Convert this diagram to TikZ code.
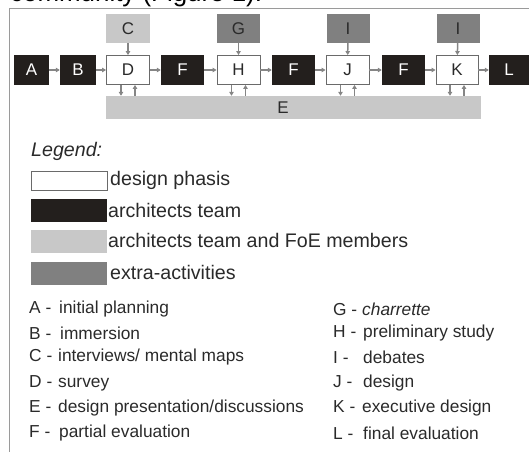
\documentclass[tikz,border=0pt]{standalone}
\usepackage{fontspec}
\setmainfont{Liberation Sans}
\usetikzlibrary{arrows.meta}
\definecolor{darkbox}{HTML}{231F1D}
\definecolor{lightbox}{HTML}{C8C8C8}
\definecolor{midbox}{HTML}{808080}
\definecolor{arrowgray}{HTML}{858585}
\definecolor{framegray}{HTML}{9A9A9A}
\definecolor{edgegray}{HTML}{6A6A6A}
\definecolor{textgray}{HTML}{2A2A2A}
\tikzset{
  boxbase/.style={rectangle, inner sep=0pt, minimum height=30bp, font=\fontsize{17}{20}\selectfont},
  darkstep/.style={boxbase, fill=darkbox, text=white},
  whitestep/.style={boxbase, fill=white, draw=edgegray, line width=0.9bp, text=textgray},
  lightstep/.style={boxbase, fill=lightbox, text=textgray},
  midstep/.style={boxbase, fill=midbox, text=textgray},
  arr/.style={draw=arrowgray, line width=1.5bp, -{Triangle[length=4bp,width=4.5bp]}},
  legbox/.style={rectangle, inner sep=0pt, minimum width=76bp, minimum height=23bp},
  legtext/.style={anchor=west, inner sep=0pt, text=textgray, font=\fontsize{19.7}{23}\selectfont},
  listtext/.style={anchor=west, inner sep=0pt, text=textgray, font=\fontsize{17.4}{20}\selectfont}
}
\begin{document}
\begin{tikzpicture}[x=1bp,y=-1bp]
\useasboundingbox (0,0) rectangle (529,452);
\begin{scope}
\clip (0,0) rectangle (529,452);
\node[anchor=base west, inner sep=0pt, text=black, font=\fontsize{26}{30}\selectfont] (title) at (10,2) {community (Figure 1).};
% frame
\draw[framegray, line width=1bp] (9,452) -- (9,9) -- (529,9);
% main row
\node[darkstep, minimum width=35bp] (A) at (31.5,70) {A};
\node[darkstep, minimum width=36bp] (B) at (78,70) {B};
\node[whitestep, minimum width=43bp, minimum height=29bp] (D) at (128,70) {D};
\node[darkstep, minimum width=43bp] (F1) at (182.5,70) {F};
\node[whitestep, minimum width=43bp, minimum height=29bp] (H) at (238.5,70) {H};
\node[darkstep, minimum width=43bp] (F2) at (293.5,70) {F};
\node[whitestep, minimum width=43bp, minimum height=29bp] (J) at (347.5,70) {J};
\node[darkstep, minimum width=43bp] (F3) at (403.5,70) {F};
\node[whitestep, minimum width=42bp, minimum height=29bp] (K) at (457,70) {K};
\node[darkstep, minimum width=40bp] (L) at (509,70) {L};
% top row
\node[lightstep, minimum width=44bp, minimum height=29bp] (C) at (128,28.5) {C};
\node[midstep, minimum width=43bp, minimum height=29bp] (G) at (238.5,28.5) {G};
\node[midstep, minimum width=43bp, minimum height=29bp] (I1) at (348,28.5) {I};
\node[midstep, minimum width=43bp, minimum height=29bp] (I2) at (458,28.5) {I};
% bottom bar
\node[lightstep, minimum width=375bp, minimum height=23bp] (E) at (293.5,107.5) {};
\node[inner sep=0pt, text=textgray, font=\fontsize{17}{20}\selectfont] (Elabel) at (283,108) {E};
% arrows horizontal
\draw[arr] (A) -- (B);
\draw[arr] (B) -- (D);
\draw[arr] (D) -- (F1);
\draw[arr] (F1) -- (H);
\draw[arr] (H) -- (F2);
\draw[arr] (F2) -- (J);
\draw[arr] (J) -- (F3);
\draw[arr] (F3) -- (K);
\draw[arr] (K) -- (L);
% arrows vertical from top
\draw[arr] (C) -- (D);
\draw[arr] (G) -- (H);
\draw[arr] (I1) -- (J);
\draw[arr] (I2) -- (K);
% arrows to/from E
\foreach \n in {D,H,J,K}{
  \draw[arr] ([xshift=-7bp]\n.south) -- ([xshift=-7bp]\n.south |- E.north);
  \draw[arr] ([xshift=7bp]\n.south |- E.north) -- ([xshift=7bp]\n.south);
}
% legend
\node[anchor=west, inner sep=0pt, text=textgray, font=\fontsize{19.7}{23}\selectfont\itshape] (legend) at (31,151) {Legend:};
\node[legbox, draw=edgegray, line width=0.9bp, fill=white, minimum height=19bp] (lb1) at (69,180.5) {};
\node[legbox, fill=darkbox] (lb2) at (69,210.5) {};
\node[legbox, fill=lightbox] (lb3) at (69,241.5) {};
\node[legbox, fill=midbox] (lb4) at (69,273.5) {};
\node[legtext] (lt1) at (110,180) {design phasis};
\node[legtext] (lt2) at (108,210) {architects team};
\node[legtext] (lt3) at (108,240) {architects team and FoE members};
\node[legtext] (lt4) at (110,272) {extra-activities};
% list
\node[listtext] (la) at (29,309) {\makebox[30bp][l]{A -}initial planning};
\node[listtext] (lb) at (29,333) {\makebox[31bp][l]{B -}immersion};
\node[listtext] (lc) at (29,357) {\makebox[29bp][l]{C -}interviews/ mental maps};
\node[listtext] (ld) at (29,383) {\makebox[29bp][l]{D -}survey};
\node[listtext] (le) at (29,408) {\makebox[29bp][l]{E -}design presentation/discussions};
\node[listtext] (lf) at (29,433) {\makebox[30bp][l]{F -}partial evaluation};
\node[listtext] (lg) at (333,309) {\makebox[29bp][l]{G -}\itshape charrette};
\node[listtext] (lh) at (333,333) {\makebox[30bp][l]{H -}preliminary study};
\node[listtext] (li) at (333,357) {\makebox[30bp][l]{I -}debates};
\node[listtext] (lj) at (333,383) {\makebox[30bp][l]{J -}design};
\node[listtext] (lk) at (333,408) {\makebox[29bp][l]{K -}executive design};
\node[listtext] (ll) at (333,433) {\makebox[30bp][l]{L -}final evaluation};
\end{scope}
\end{tikzpicture}
\end{document}
